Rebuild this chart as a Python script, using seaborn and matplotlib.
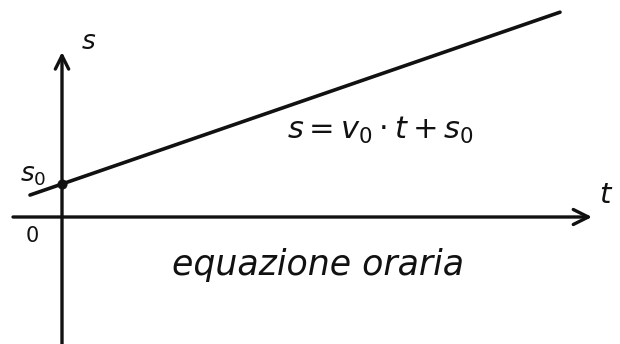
import matplotlib
matplotlib.use("Agg")
import matplotlib.pyplot as plt
import seaborn as sns
import pandas as pd

sns.set_theme(style="white")
plt.rcParams["font.family"] = ["DejaVu Sans"]

# Uniform motion: s = v0 * t + s0
v0 = 0.345
s0 = 0.33
t_line = [-0.32, 4.98]
s_line = [v0 * t + s0 for t in t_line]

axis_labels = ["s", "t"]
origin_label = "0"
formula = r"$s = v_0 \cdot t + s_0$"
caption = "equazione oraria"

fig = plt.figure(figsize=(6.2, 3.44), dpi=100)
ax = fig.add_axes([0, 0, 1, 1])
ax.set_xlim(-0.62, 5.58)
ax.set_ylim(-1.27, 2.17)
ax.axis("off")

ink = "#111111"

# axes with open arrow heads
ax.annotate("", xy=(5.30, 0), xytext=(-0.49, 0),
            arrowprops=dict(arrowstyle="->,head_length=0.9,head_width=0.45",
                            lw=2.4, color=ink, shrinkA=0, shrinkB=0))
ax.annotate("", xy=(0, 1.65), xytext=(0, -1.30),
            arrowprops=dict(arrowstyle="->,head_length=0.8,head_width=0.4",
                            lw=2.4, color=ink, shrinkA=0, shrinkB=0))

df = pd.DataFrame({"t": t_line, "s": s_line})
sns.lineplot(data=df, x="t", y="s", ax=ax, color=ink, lw=2.6)
sns.scatterplot(x=[0], y=[s0], ax=ax, color=ink, s=45, edgecolor=ink, zorder=5)

ax.text(0.27, 1.75, axis_labels[0], fontsize=19, style="italic", color=ink,
        ha="center", va="center")
ax.text(5.43, 0.22, axis_labels[1], fontsize=21, style="italic", color=ink,
        ha="center", va="center")
ax.text(-0.29, 0.42, r"$s_0$", fontsize=19, color=ink, ha="center", va="center")
ax.text(-0.30, -0.19, origin_label, fontsize=15, color=ink, ha="center", va="center")
ax.text(3.18, 0.87, formula, fontsize=22, color=ink, ha="center", va="center")
ax.text(2.56, -0.48, caption, fontsize=25, style="italic", color=ink,
        ha="center", va="center")

fig.savefig("out.png", dpi=100, facecolor="white")
